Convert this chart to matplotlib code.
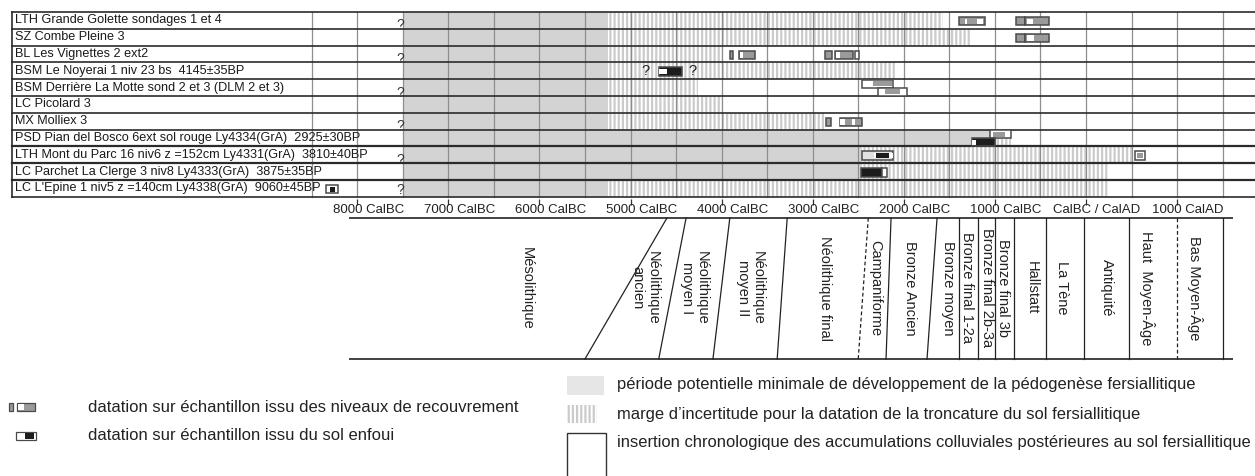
import matplotlib
matplotlib.use("Agg")
import matplotlib.pyplot as plt
from matplotlib.patches import Rectangle

plt.rcParams['font.family'] = ['Liberation Sans', 'DejaVu Sans']
plt.rcParams['hatch.linewidth'] = 1.6

# ---- data -------------------------------------------------------------
site_labels = [
    "LTH Grande Golette sondages 1 et 4",
    "SZ Combe Pleine 3",
    "BL Les Vignettes 2 ext2",
    "BSM Le Noyerai 1 niv 23 bs  4145\u00b135BP",
    "BSM Derri\u00e8re La Motte sond 2 et 3 (DLM 2 et 3)",
    "LC Picolard 3",
    "MX Molliex 3",
    "PSD Pian del Bosco 6ext sol rouge Ly4334(GrA)  2925\u00b130BP",
    "LTH Mont du Parc 16 niv6 z =152cm Ly4331(GrA)  3810\u00b140BP",
    "LC Parchet La Clerge 3 niv8 Ly4333(GrA)  3875\u00b135BP",
    "LC L'Epine 1 niv5 z =140cm Ly4338(GrA)  9060\u00b145BP",
]
soil_start = -7500
soil_end = [-5250, -5250, -5250, -5250, -5250, -5250, -5250, -1050, -2460, -2460, -5250]
trunc_end = [-1570, -1275, -4000, -2100, -4260, -4000, -2865, -820, 510, 240, 240]

G, K, W, L = '#9a9a9a', '#1c1c1c', 'white', '#e2e2e2'
# each date: row, level, list of (start, end, colour); first segment = outer box
date_row = [0, 0, 0, 1, 1, 2, 2, 2, 2, 2, 3, 4, 4, 6, 6, 7, 7, 8, 8, 9, 9, 10]
date_level = ['mid', 'mid', 'mid', 'mid', 'mid', 'mid', 'mid', 'mid', 'mid', 'mid', 'mid',
              'up', 'low', 'mid', 'mid', 'up', 'low', 'mid', 'mid', 'mid', 'mid', 'mid']
date_segments = [
    [(-1394, -1109, G), (-1328, -1306, W), (-1197, -1131, W)],
    [(-768, -670, G)],
    [(-670, -406, G), (-648, -582, W)],
    [(-768, -670, G)],
    [(-670, -406, G), (-648, -575, W)],
    [(-3908, -3875, G)],
    [(-3809, -3633, G), (-3798, -3765, W)],
    [(-2865, -2788, G)],
    [(-2755, -2558, G), (-2744, -2700, W)],
    [(-2536, -2492, W)],
    [(-4687, -4435, K), (-4687, -4599, W)],
    [(-2459, -2119, W), (-2338, -2130, G), (-2310, -2300, W)],
    [(-2283, -1965, W), (-2206, -2042, G)],
    [(-2854, -2799, G)],
    [(-2700, -2459, G), (-2700, -2645, W), (-2569, -2536, W)],
    [(-1054, -823, W), (-1021, -889, G)],
    [(-1251, -999, K), (-1251, -1207, W)],
    [(-2459, -2119, L), (-2330, -2310, W), (-2300, -2160, K), (-2160, -2119, W)],
    [(538, 648, W), (565, 625, G)],
    [(-2470, -2239, K)],
    [(-2239, -2184, W)],
    [(-8342, -8211, W), (-8299, -8244, K)],
]
noyerai_question = [-4840, -4315]

tick_years = [-8000, -7000, -6000, -5000, -4000, -3000, -2000, -1000, 0, 1000]
tick_labels = ["8000 CalBC", "7000 CalBC", "6000 CalBC", "5000 CalBC", "4000 CalBC",
               "3000 CalBC", "2000 CalBC", "1000 CalBC", "CalBC / CalAD", "1000 CalAD"]

period_names = ["M\u00e9solithique", "N\u00e9olithique\nancien", "N\u00e9olithique\nmoyen I",
                "N\u00e9olithique\nmoyen II", "N\u00e9olithique final", "Campaniforme",
                "Bronze Ancien", "Bronze moyen", "Bronze final 1-2a", "Bronze final 2b-3a",
                "Bronze final 3b", "Hallstatt", "La T\u00e8ne", "Antiquit\u00e9",
                "Haut  Moyen-\u00c2ge", "Bas Moyen-\u00c2ge"]
period_mid = [-6136, -4841, -4303, -3688, -2865, -2316, -1932, -1515, -1306, -1087,
              -911, -593, -263, 230, 670, 1196]
# boundary after each period: year at top / bottom of the band
bound_top = [-4600, -4390, -3910, -3280, -2390, -2140, -1635, -1395, -1185, -1000,
             -790, -440, -25, 470, 1000, 1500]
bound_bottom = [-5500, -4690, -4095, -3390, -2500, -2195, -1745, -1395, -1185, -1000,
                -790, -440, -25, 470, 1000, 1500]
bound_dashed = [False, False, False, False, True, False, False, False, False, False,
                False, False, False, False, True, False]

legend_left = ["datation sur \u00e9chantillon issu des niveaux de recouvrement",
               "datation sur \u00e9chantillon issu du sol enfoui"]
legend_right = ["p\u00e9riode potentielle minimale de d\u00e9veloppement de la p\u00e9dogen\u00e8se fersiallitique",
                "marge d\u2019incertitude pour la datation de la troncature du sol fersiallitique",
                "insertion chronologique des accumulations colluviales post\u00e9rieures au sol fersiallitique"]

# ---- layout -----------------------------------------------------------
WPX, HPX = 1255, 476
ZERO_PX, PX_PER_YR = 1086, 0.0911
TOP, ROW_H = 12, 16.8
LEVELS = {'mid': (0.3, 0.8), 'up': (0.05, 0.5), 'low': (0.52, 0.98)}
SOIL_GREY = '#d3d3d3'
STRIPE = '#cbcbcb'
EDGE = '#4a4a4a'

fig = plt.figure(figsize=(WPX / 100, HPX / 100), dpi=100)
ax = fig.add_axes([0, 0, 1, 1])
ax.set_xlim(-ZERO_PX / PX_PER_YR, (WPX - ZERO_PX) / PX_PER_YR)
ax.set_ylim(HPX, 0)
ax.axis('off')

n = len(site_labels)
bottom = TOP + n * ROW_H


def draw_date(a, segs, y0, y1, edge_lw=1.1):
    s, e, c = segs[0]
    a.add_patch(Rectangle((s, y0), e - s, y1 - y0, facecolor=c, edgecolor=EDGE,
                          lw=edge_lw, zorder=6))
    pad = (y1 - y0) * 0.18
    for s, e, c in segs[1:]:
        a.add_patch(Rectangle((s, y0 + pad), e - s, y1 - y0 - 2 * pad, facecolor=c,
                              edgecolor='none', lw=0, zorder=7))


# soil periods and truncation margins
for i in range(n):
    y = TOP + i * ROW_H
    ax.add_patch(Rectangle((soil_start, y), soil_end[i] - soil_start, ROW_H,
                           facecolor=SOIL_GREY, edgecolor='none', lw=0, zorder=1))
    ax.add_patch(Rectangle((soil_end[i], y), trunc_end[i] - soil_end[i], ROW_H,
                           facecolor='white', edgecolor=STRIPE, hatch='||||', lw=0, zorder=1))

# vertical grid every 500 years
for yr in range(-8500, 1501, 500):
    ax.plot([yr, yr], [TOP, bottom], color='#8e8e8e', lw=0.9, zorder=2)

# row lines
for i in range(n + 1):
    lw = 1.6 if i in (8, 9, 10) else 1.2
    ax.axhline(TOP + i * ROW_H, xmin=12 / WPX, xmax=1, color='#2b2b2b', lw=lw, zorder=4)

# "?" marks at the start of the soil period
for k in range(6):
    yq = TOP + (2 * k + 0.8) * ROW_H if k < 5 else TOP + 10.6 * ROW_H
    ax.text(soil_start - 30, yq, "?", ha='center', va='center', fontsize=10,
            color='#333333', zorder=5)
for q in noyerai_question:
    ax.text(q, TOP + 3.5 * ROW_H, "?", ha='center', va='center', fontsize=10.5,
            color='#222222', zorder=5)

# dates
for r, lev, segs in zip(date_row, date_level, date_segments):
    f0, f1 = LEVELS[lev]
    draw_date(ax, segs, TOP + (r + f0) * ROW_H, TOP + (r + f1) * ROW_H)

# time axis
ax.vlines(tick_years, bottom + 2, bottom + 8, color='#333333', lw=0.9)
for yr, lab in zip(tick_years, tick_labels):
    ax.text(yr + 120, 210, lab, ha='center', va='center', fontsize=9.5, color='#222222')

# period band
y_top, y_bot = 218, 359
ax.hlines([y_top, y_bot], -8090, 1614, color='#222222', lw=1.2)
for t, b, d in zip(bound_top, bound_bottom, bound_dashed):
    ax.plot([t, b], [y_top, y_bot], color='#222222', lw=0.9,
            ls=(0, (3, 2)) if d else '-')
for name, xm in zip(period_names, period_mid):
    ax.text(xm, 288, name, rotation=270, ha='center', va='center', fontsize=10.5,
            color='#222222', linespacing=1.05)

# ---- pixel layer: labels and legend -----------------------------------
lay = fig.add_axes([0, 0, 1, 1])
lay.set_xlim(0, WPX)
lay.set_ylim(HPX, 0)
lay.axis('off')
lay.patch.set_alpha(0)

lay.plot([12, 12], [TOP, bottom], color='#2b2b2b', lw=1.2)
for i, lab in enumerate(site_labels):
    lay.text(15, TOP + (i + 0.5) * ROW_H, lab, ha='left', va='center', fontsize=9.1,
             color='#1a1a1a')

# left legend
draw_date(lay, [(9, 13, G)], 403, 411, 0.9)
draw_date(lay, [(17, 35, G), (18, 24, W)], 403, 411, 0.9)
draw_date(lay, [(16, 36, W), (25, 34, K)], 432, 440, 0.9)
for k, txt in enumerate(legend_left):
    lay.text(88, 407 + 29 * k, txt, ha='left', va='center', fontsize=12, color='#222222')

# right legend
lay.add_patch(Rectangle((567, 376), 37, 19, facecolor='#e6e6e6', edgecolor='none', lw=0))
lay.add_patch(Rectangle((567, 405), 30, 18, facecolor='white', edgecolor=STRIPE,
                        hatch='||||', lw=0))
lay.add_patch(Rectangle((567, 433), 39, 50, facecolor='white', edgecolor='#333333', lw=1.0))
for k, txt in enumerate(legend_right):
    lay.text(617, 385 + 29 * k, txt, ha='left', va='center', fontsize=11.9, color='#222222')

fig.savefig("out.png", dpi=100, facecolor='white')
